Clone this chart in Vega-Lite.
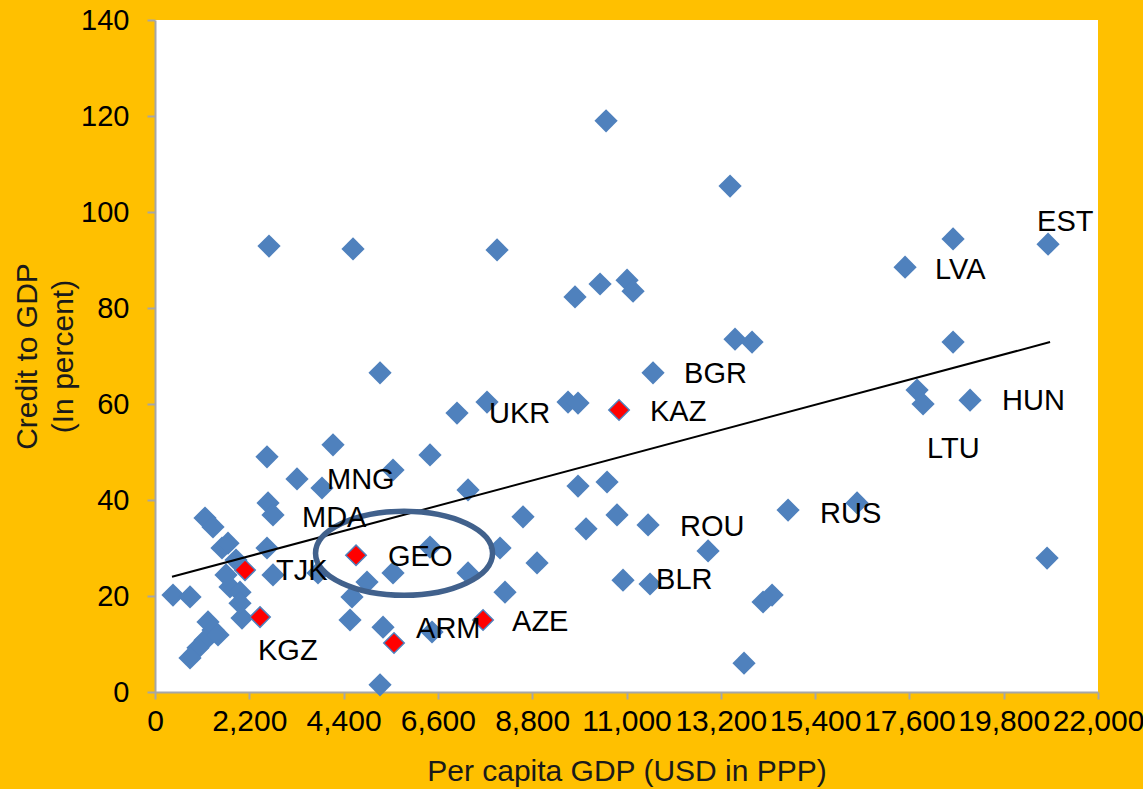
{
  "$schema": "https://vega.github.io/schema/vega-lite/v6.json",
  "width": 943,
  "height": 672,
  "autosize": {"type": "none"},
  "padding": {"left": 155, "top": 20, "right": 45, "bottom": 97},
  "background": "#FFC000",
  "config": {"view": {"fill": "white", "stroke": null}, "font": "Liberation Sans"},
  "datasets": {
    "pts": [
      {"gdp": 10523, "credit": 119.0}, {"gdp": 13416, "credit": 105.4}, {"gdp": 20835, "credit": 93.3},
      {"gdp": 18619, "credit": 94.4}, {"gdp": 17499, "credit": 88.5}, {"gdp": 2660, "credit": 92.9},
      {"gdp": 4620, "credit": 92.3}, {"gdp": 7980, "credit": 92.1}, {"gdp": 10383, "credit": 85.0},
      {"gdp": 11013, "credit": 85.8}, {"gdp": 11153, "credit": 83.5}, {"gdp": 9799, "credit": 82.3},
      {"gdp": 13532, "credit": 73.5}, {"gdp": 13929, "credit": 72.9}, {"gdp": 18619, "credit": 72.9},
      {"gdp": 11619, "credit": 66.5}, {"gdp": 5250, "credit": 66.5}, {"gdp": 9636, "credit": 60.4},
      {"gdp": 9869, "credit": 60.2}, {"gdp": 7746, "credit": 60.4}, {"gdp": 7046, "credit": 58.1},
      {"gdp": 17779, "credit": 62.9}, {"gdp": 17919, "credit": 60.0}, {"gdp": 19015, "credit": 60.8},
      {"gdp": 10546, "credit": 43.75}, {"gdp": 10779, "credit": 36.9}, {"gdp": 11503, "credit": 34.8},
      {"gdp": 14769, "credit": 37.9}, {"gdp": 16379, "credit": 39.4}, {"gdp": 12903, "credit": 29.4},
      {"gdp": 10919, "credit": 23.3}, {"gdp": 11549, "credit": 22.5}, {"gdp": 14186, "credit": 18.75},
      {"gdp": 14396, "credit": 20.2}, {"gdp": 13742, "credit": 6.0}, {"gdp": 20812, "credit": 27.9},
      {"gdp": 6416, "credit": 49.4}, {"gdp": 7303, "credit": 42.1}, {"gdp": 9869, "credit": 42.9},
      {"gdp": 8586, "credit": 36.5}, {"gdp": 10056, "credit": 34.0}, {"gdp": 8049, "credit": 30.0},
      {"gdp": 8913, "credit": 26.9}, {"gdp": 8166, "credit": 20.8}, {"gdp": 7303, "credit": 24.8},
      {"gdp": 6416, "credit": 30.2}, {"gdp": 6463, "credit": 12.5}, {"gdp": 2613, "credit": 49.0},
      {"gdp": 4153, "credit": 51.5}, {"gdp": 3313, "credit": 44.4}, {"gdp": 3896, "credit": 42.5},
      {"gdp": 5553, "credit": 46.25}, {"gdp": 2637, "credit": 39.4}, {"gdp": 2753, "credit": 36.9},
      {"gdp": 1167, "credit": 36.25}, {"gdp": 1353, "credit": 34.4}, {"gdp": 1563, "credit": 30.0},
      {"gdp": 1703, "credit": 31.0}, {"gdp": 2613, "credit": 30.0}, {"gdp": 2753, "credit": 24.4},
      {"gdp": 3803, "credit": 24.8}, {"gdp": 4946, "credit": 22.9}, {"gdp": 5553, "credit": 24.8},
      {"gdp": 4596, "credit": 19.8}, {"gdp": 4550, "credit": 15.0}, {"gdp": 5320, "credit": 13.5},
      {"gdp": 5250, "credit": 1.5}, {"gdp": 2030, "credit": 15.4}, {"gdp": 420, "credit": 20.2},
      {"gdp": 817, "credit": 19.8}, {"gdp": 1237, "credit": 14.6}, {"gdp": 1353, "credit": 12.9},
      {"gdp": 1167, "credit": 10.8}, {"gdp": 1003, "credit": 9.2}, {"gdp": 817, "credit": 7.1},
      {"gdp": 1750, "credit": 21.9}, {"gdp": 1983, "credit": 20.8}, {"gdp": 1983, "credit": 18.5},
      {"gdp": 1890, "credit": 27.5}, {"gdp": 1657, "credit": 24.4}, {"gdp": 1470, "credit": 11.9}
    ],
    "red": [
      {"gdp": 2100, "credit": 25.4}, {"gdp": 4690, "credit": 28.5}, {"gdp": 2450, "credit": 15.6},
      {"gdp": 5576, "credit": 10.2}, {"gdp": 7653, "credit": 15.0}, {"gdp": 10826, "credit": 58.75}
    ],
    "labels": [
      {"gdp": 20579, "credit": 97.9, "label": "EST"}, {"gdp": 18199, "credit": 87.9, "label": "LVA"},
      {"gdp": 12343, "credit": 66.25, "label": "BGR"}, {"gdp": 11549, "credit": 58.3, "label": "KAZ"},
      {"gdp": 7793, "credit": 57.9, "label": "UKR"}, {"gdp": 19762, "credit": 60.6, "label": "HUN"},
      {"gdp": 18012, "credit": 50.6, "label": "LTU"}, {"gdp": 4013, "credit": 44.2, "label": "MNG"},
      {"gdp": 3430, "credit": 36.25, "label": "MDA"}, {"gdp": 12249, "credit": 34.4, "label": "ROU"},
      {"gdp": 15516, "credit": 37.1, "label": "RUS"}, {"gdp": 5436, "credit": 28.1, "label": "GEO"},
      {"gdp": 2823, "credit": 25.2, "label": "TJK"}, {"gdp": 11689, "credit": 23.3, "label": "BLR"},
      {"gdp": 8330, "credit": 14.6, "label": "AZE"}, {"gdp": 6090, "credit": 13.1, "label": "ARM"},
      {"gdp": 2403, "credit": 8.5, "label": "KGZ"}
    ],
    "trend": [{"gdp": 397, "credit": 24.0}, {"gdp": 20882, "credit": 72.9}],
    "ring": [{"gdp": 5810, "credit": 28.9}]
  },
  "layer": [
    {
      "data": {"name": "pts"},
      "mark": {"type": "point", "shape": "diamond", "filled": true, "color": "#4F81BD", "opacity": 1, "size": 540},
      "encoding": {
        "x": {"field": "gdp", "type": "quantitative",
          "scale": {"domain": [0, 22000], "nice": false},
          "axis": {"values": [0, 2200, 4400, 6600, 8800, 11000, 13200, 15400, 17600, 19800, 22000],
            "format": ",d", "grid": false, "labelOverlap": false, "labelFlush": false,
            "labelFontSize": 30, "labelColor": "#000000", "labelPadding": 7,
            "tickSize": 7, "tickWidth": 2, "tickColor": "#A6A6A6", "domainColor": "#A6A6A6", "domainWidth": 2,
            "title": "Per capita GDP (USD  in PPP)", "titleFontSize": 30, "titleFontWeight": "normal",
            "titleColor": "#1a1a1a", "titlePadding": 20}},
        "y": {"field": "credit", "type": "quantitative",
          "scale": {"domain": [0, 140], "nice": false},
          "axis": {"values": [0, 20, 40, 60, 80, 100, 120, 140], "grid": false,
            "labelFontSize": 29, "labelColor": "#000000", "labelPadding": 18,
            "tickSize": 8, "tickWidth": 2, "tickColor": "#A6A6A6", "domainColor": "#A6A6A6", "domainWidth": 2,
            "title": ["Credit to GDP", "(In percent)"], "titleFontSize": 30, "titleFontWeight": "normal",
            "titleColor": "#1a1a1a", "titlePadding": 2, "titleLineHeight": 36}}
      }
    },
    {
      "data": {"name": "red"},
      "mark": {"type": "point", "shape": "diamond", "filled": true, "fill": "#FF0000", "stroke": "#4F81BD", "strokeWidth": 1.5, "opacity": 1, "size": 420},
      "encoding": {
        "x": {"field": "gdp", "type": "quantitative"},
        "y": {"field": "credit", "type": "quantitative"}
      }
    },
    {
      "data": {"name": "trend"},
      "mark": {"type": "line", "color": "#000000", "strokeWidth": 2},
      "encoding": {
        "x": {"field": "gdp", "type": "quantitative"},
        "y": {"field": "credit", "type": "quantitative"}
      }
    },
    {
      "data": {"name": "ring"},
      "mark": {"type": "point", "filled": false, "stroke": "#41618C", "strokeWidth": 5.5, "opacity": 1, "size": 31329,
        "shape": "M -1 0 C -1 -0.2623 -0.5523 -0.475 0 -0.475 C 0.5523 -0.475 1 -0.2623 1 0 C 1 0.2623 0.5523 0.475 0 0.475 C -0.5523 0.475 -1 0.2623 -1 0 Z"},
      "encoding": {
        "x": {"field": "gdp", "type": "quantitative"},
        "y": {"field": "credit", "type": "quantitative"}
      }
    },
    {
      "data": {"name": "labels"},
      "mark": {"type": "text", "align": "left", "baseline": "middle", "fontSize": 29, "color": "#000000"},
      "encoding": {
        "x": {"field": "gdp", "type": "quantitative"},
        "y": {"field": "credit", "type": "quantitative"},
        "text": {"field": "label"}
      }
    }
  ]
}
